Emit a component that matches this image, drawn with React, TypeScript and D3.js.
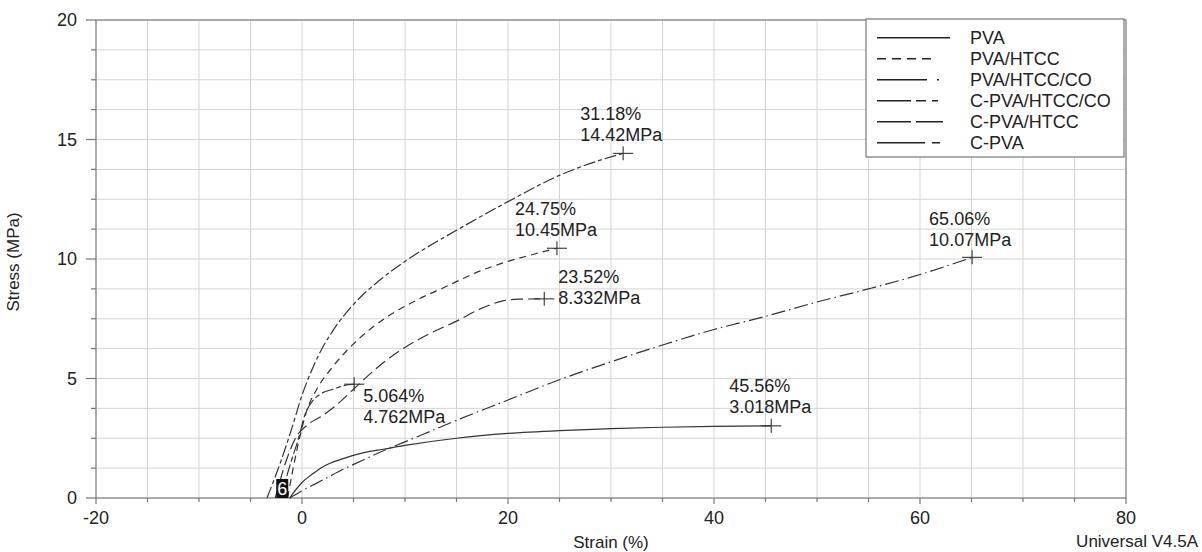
import React, { useEffect, useRef } from "react";
import * as d3 from "d3";

// series: strain (%) / stress (MPa)
const seriesNames = ["PVA", "PVA/HTCC", "PVA/HTCC/CO", "C-PVA/HTCC/CO", "C-PVA/HTCC", "C-PVA"];

const pvaStrain = [-1.2, 0, 1, 2, 4, 6, 8, 10, 15, 20, 25, 30, 35, 40, 45.56];
const pvaStress = [0, 0.65, 1.0, 1.3, 1.65, 1.9, 2.05, 2.2, 2.5, 2.7, 2.82, 2.9, 2.96, 3.0, 3.018];

const pvaHtccStrain = [-1.4, -0.5, 0.5, 1.5, 3, 5, 8, 11, 14, 17, 20, 22.5, 24.75];
const pvaHtccStress = [0, 2.0, 3.7, 4.6, 5.5, 6.45, 7.5, 8.25, 8.85, 9.45, 9.9, 10.2, 10.45];

const pvaHtccCoStrain = [-1.2, 0, 2, 4, 6, 8, 10, 12.5, 15, 20, 25, 30, 35, 40, 45, 50, 55, 60, 65.06];
const pvaHtccCoStress = [0, 0.3, 0.75, 1.2, 1.6, 2.0, 2.35, 2.8, 3.25, 4.1, 4.95, 5.7, 6.4, 7.05, 7.6, 8.2, 8.75, 9.35, 10.07];

const cPvaHtccCoStrain = [-3.4, -2, -1, 0, 1, 2, 3, 5, 7.5, 10, 15, 20, 25, 28, 31.18];
const cPvaHtccCoStress = [0, 1.6, 2.9, 4.3, 5.4, 6.3, 7.0, 8.1, 9.1, 9.9, 11.2, 12.4, 13.5, 14.0, 14.42];

const cPvaHtccStrain = [-2.6, -1.5, -0.5, 0.5, 2, 3.5, 5, 6.5, 8, 10, 12.5, 15, 17.5, 19.5, 21, 23.52];
const cPvaHtccStress = [0, 1.6, 2.6, 3.05, 3.45, 3.95, 4.55, 5.15, 5.7, 6.3, 6.9, 7.4, 7.95, 8.25, 8.32, 8.332];

const cPvaStrain = [-2.1, -1, -0.4, 0.3, 1.1, 2, 3, 4, 5.064];
const cPvaStress = [0, 1.6, 2.4, 3.5, 4.1, 4.4, 4.55, 4.7, 4.762];

const strains = [pvaStrain, pvaHtccStrain, pvaHtccCoStrain, cPvaHtccCoStrain, cPvaHtccStrain, cPvaStrain];
const stresses = [pvaStress, pvaHtccStress, pvaHtccCoStress, cPvaHtccCoStress, cPvaHtccStress, cPvaStress];

// break point labels
const strainLabels = ["45.56%", "24.75%", "65.06%", "31.18%", "23.52%", "5.064%"];
const stressLabels = ["3.018MPa", "10.45MPa", "10.07MPa", "14.42MPa", "8.332MPa", "4.762MPa"];

const xTickLabels = [-20, 0, 20, 40, 60, 80];
const yTickLabels = [0, 5, 10, 15, 20];

// styling per series
const curveDash = ["none", "7 5", "14 4 1.5 4", "12 3 4 3", "12 5", "12 3 5 3"];
const legendDash = ["none", "9 6", "50 10 2 30", "34 5 10 6 6 40", "34 5 27 40", "48 7 8 40"];
// label offsets from the end point: [dx, dy of first line]
const labelOffset = [[-42, -40], [-42, -40], [-43, -39], [-43, -40], [14, -22], [9, 12]];

const W = 1202;
const H = 552;
const FONT = "'Liberation Sans', Arial, sans-serif";

function App() {
  const svgRef = useRef(null);

  useEffect(() => {
    const svg = d3.select(svgRef.current);
    svg.selectAll("*").remove();

    const x = d3.scaleLinear().domain([-20, 80]).range([96, 1126]);
    const y = d3.scaleLinear().domain([0, 20]).range([498, 20]);

    svg.append("rect").attr("width", W).attr("height", H).attr("fill", "white");

    // grid
    const xGrid = d3.range(-20, 80.01, 5);
    const yGrid = d3.range(0, 20.01, 1.25);
    svg.append("g").selectAll("line").data(xGrid).enter().append("line")
      .attr("x1", d => x(d)).attr("x2", d => x(d))
      .attr("y1", y(0)).attr("y2", y(20))
      .attr("stroke", "#d4d4d4").attr("stroke-width", 1);
    svg.append("g").selectAll("line").data(yGrid).enter().append("line")
      .attr("x1", x(-20)).attr("x2", x(80))
      .attr("y1", d => y(d)).attr("y2", d => y(d))
      .attr("stroke", "#d4d4d4").attr("stroke-width", 1);

    // frame
    svg.append("rect")
      .attr("x", x(-20)).attr("y", y(20))
      .attr("width", x(80) - x(-20)).attr("height", y(0) - y(20))
      .attr("fill", "none").attr("stroke", "#8a8a8a").attr("stroke-width", 1.3);

    // ticks
    svg.append("g").selectAll("line").data(xGrid).enter().append("line")
      .attr("x1", d => x(d)).attr("x2", d => x(d))
      .attr("y1", y(0)).attr("y2", d => y(0) + (d % 20 === 0 ? 6 : 4))
      .attr("stroke", "#777").attr("stroke-width", 1.2);
    svg.append("g").selectAll("line").data(yGrid).enter().append("line")
      .attr("y1", d => y(d)).attr("y2", d => y(d))
      .attr("x1", x(-20)).attr("x2", d => x(-20) - (d % 5 === 0 ? 10 : 5))
      .attr("stroke", "#777").attr("stroke-width", 1.2);

    // tick labels
    svg.append("g").selectAll("text").data(xTickLabels).enter().append("text")
      .attr("x", d => x(d)).attr("y", 524)
      .attr("text-anchor", "middle")
      .attr("font-family", FONT).attr("font-size", 18).attr("fill", "#222")
      .text(d => d);
    svg.append("g").selectAll("text").data(yTickLabels).enter().append("text")
      .attr("x", 77).attr("y", d => y(d)).attr("dy", "0.35em")
      .attr("text-anchor", "end")
      .attr("font-family", FONT).attr("font-size", 18).attr("fill", "#222")
      .text(d => d);

    // axis titles
    svg.append("text").attr("x", 611).attr("y", 548).attr("text-anchor", "middle")
      .attr("font-family", FONT).attr("font-size", 17).attr("fill", "#222").text("Strain (%)");
    svg.append("text").attr("transform", "translate(19,262) rotate(-90)").attr("text-anchor", "middle")
      .attr("font-family", FONT).attr("font-size", 17).attr("fill", "#222").text("Stress (MPa)");
    svg.append("text").attr("x", 1198).attr("y", 547).attr("text-anchor", "end")
      .attr("font-family", FONT).attr("font-size", 17).attr("fill", "#222").text("Universal V4.5A");

    // curves
    const line = d3.line().x(d => x(d[0])).y(d => y(d[1])).curve(d3.curveMonotoneX);
    seriesNames.forEach((name, i) => {
      const pts = strains[i].map((s, j) => [s, stresses[i][j]]);
      svg.append("path")
        .attr("d", line(pts))
        .attr("fill", "none")
        .attr("stroke", "#333")
        .attr("stroke-width", 1.2)
        .attr("stroke-dasharray", curveDash[i]);

      // break point marker and label
      const last = pts[pts.length - 1];
      const ex = x(last[0]);
      const ey = y(last[1]);
      svg.append("line").attr("x1", ex - 10).attr("x2", ex + 10).attr("y1", ey).attr("y2", ey)
        .attr("stroke", "#333").attr("stroke-width", 1.1);
      svg.append("line").attr("x1", ex).attr("x2", ex).attr("y1", ey - 7).attr("y2", ey + 7)
        .attr("stroke", "#333").attr("stroke-width", 1.1);
      const [dx, dy] = labelOffset[i];
      const t = svg.append("text").attr("font-family", FONT).attr("font-size", 18).attr("fill", "#222");
      t.append("tspan").attr("x", ex + dx).attr("y", ey + dy).attr("dy", "0.35em").text(strainLabels[i]);
      t.append("tspan").attr("x", ex + dx).attr("y", ey + dy + 21).attr("dy", "0.35em").text(stressLabels[i]);
    });

    // specimen count marker
    const mg = svg.append("g");
    mg.append("rect").attr("x", x(-2.5)).attr("y", y(0) - 19).attr("width", 12).attr("height", 19).attr("fill", "#111");
    mg.append("text").attr("x", x(-2.5) + 6).attr("y", y(0) - 3).attr("text-anchor", "middle")
      .attr("font-family", FONT).attr("font-size", 18).attr("fill", "white").text("6");

    // legend
    const lg = svg.append("g");
    lg.append("rect").attr("x", 866).attr("y", 19).attr("width", 258).attr("height", 138)
      .attr("fill", "white").attr("stroke", "#777").attr("stroke-width", 1.2);
    seriesNames.forEach((name, i) => {
      const ly = 37.7 + i * 21;
      lg.append("line").attr("x1", 877).attr("x2", i === 1 ? 936 : 950).attr("y1", ly).attr("y2", ly)
        .attr("stroke", "#222").attr("stroke-width", 1.6)
        .attr("stroke-dasharray", legendDash[i]);
      lg.append("text").attr("x", 970).attr("y", ly).attr("dy", "0.35em")
        .attr("font-family", FONT).attr("font-size", 18).attr("fill", "#222").text(name);
    });
  }, []);

  return <svg ref={svgRef} width={W} height={H} style={{ position: "absolute", left: 0, top: 0 }} />;
}

export default App;
